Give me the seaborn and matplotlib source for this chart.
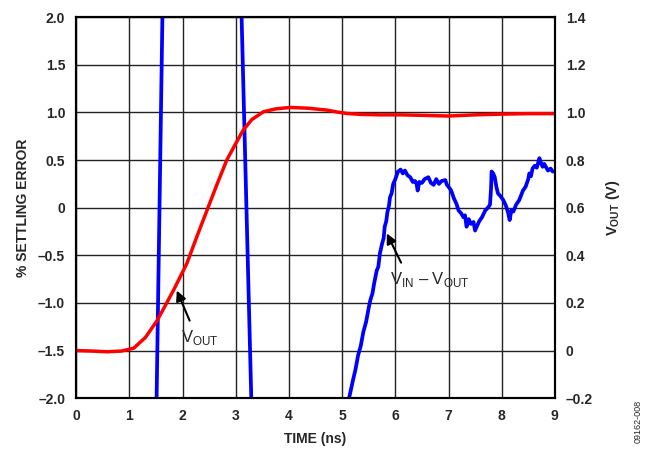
import matplotlib
matplotlib.use("Agg")
import matplotlib.pyplot as plt
import seaborn as sns
import pandas as pd

# VOUT (V), right axis
t_vout = [0.0, 0.3, 0.58, 0.85, 1.08, 1.3, 1.52, 1.7, 1.83, 2.08, 2.27, 2.46, 2.65, 2.83, 3.0, 3.14, 3.3,
          3.52, 3.75, 4.02, 4.35, 4.71, 4.9, 5.08, 5.33, 5.7, 6.1, 6.5, 7.0, 7.5, 8.0, 8.5, 9.0]
v_out = [0.0, -0.002, -0.005, -0.002, 0.01, 0.055, 0.126, 0.2, 0.254, 0.366, 0.48, 0.59, 0.70, 0.80, 0.87, 0.926, 0.97,
         1.003, 1.015, 1.021, 1.018, 1.01, 1.002, 0.996, 0.992, 0.99, 0.99, 0.988, 0.985, 0.99, 0.993, 0.995, 0.995]

# % settling error, left axis
t_err = [1.505, 1.625, 3.10, 3.30, 5.08, 5.13, 5.2, 5.25, 5.3, 5.35, 5.4, 5.45, 5.5, 5.53, 5.57, 5.6, 5.65, 5.68,
         5.71, 5.75, 5.78, 5.80, 5.83, 5.85, 5.88, 5.9, 5.93, 5.96, 6.0, 6.05, 6.1, 6.14, 6.18, 6.23, 6.28, 6.33,
         6.37, 6.40, 6.42, 6.45, 6.5, 6.55, 6.62, 6.67, 6.72, 6.77, 6.82, 6.87, 6.94, 6.97, 7.0, 7.05, 7.1, 7.15,
         7.19, 7.24, 7.28, 7.31, 7.34, 7.38, 7.42, 7.47, 7.5, 7.53, 7.58, 7.63, 7.69, 7.74, 7.78, 7.80, 7.81, 7.84,
         7.87, 7.9, 7.93, 7.98, 8.03, 8.08, 8.12, 8.15, 8.18, 8.22, 8.27, 8.33, 8.40, 8.45, 8.5, 8.52, 8.55, 8.58,
         8.62, 8.66, 8.71, 8.74, 8.77, 8.8, 8.84, 8.87, 8.92, 8.96, 9.0]
pct_err = [-2.2, 2.2, 2.2, -2.2, -2.2, -2.0, -1.82, -1.7, -1.55, -1.45, -1.3, -1.2, -1.05, -0.97, -0.9, -0.8, -0.66, -0.62,
           -0.48, -0.38, -0.32, -0.2, -0.14, -0.05, 0.02, 0.11, 0.15, 0.25, 0.3, 0.38, 0.40, 0.36, 0.39, 0.34, 0.32, 0.27,
           0.28, 0.25, 0.18, 0.27, 0.26, 0.3, 0.32, 0.26, 0.24, 0.3, 0.25, 0.28, 0.29, 0.24, 0.22, 0.18, 0.1, 0.04,
           -0.03, -0.06, -0.1, -0.08, -0.2, -0.12, -0.17, -0.15, -0.24, -0.2, -0.14, -0.1, -0.03, 0.0, 0.03, 0.2, 0.38, 0.36,
           0.32, 0.22, 0.15, 0.12, 0.08, 0.02, -0.05, -0.13, -0.03, -0.04, 0.03, 0.08, 0.18, 0.22, 0.3, 0.36, 0.33, 0.41,
           0.44, 0.42, 0.52, 0.47, 0.43, 0.46, 0.42, 0.39, 0.41, 0.38, 0.38]

x_ticks = [0, 1, 2, 3, 4, 5, 6, 7, 8, 9]
left_ticks = [-2.0, -1.5, -1.0, -0.5, 0.0, 0.5, 1.0, 1.5, 2.0]
left_labels = ["\u20132.0", "\u20131.5", "\u20131.0", "\u20130.5", "0", "0.5", "1.0", "1.5", "2.0"]
right_ticks = [-0.2, 0.0, 0.2, 0.4, 0.6, 0.8, 1.0, 1.2, 1.4]
right_labels = ["\u20130.2", "0", "0.2", "0.4", "0.6", "0.8", "1.0", "1.2", "1.4"]

sns.set_style("white")
plt.rcParams['font.family'] = ['Liberation Sans', 'DejaVu Sans']
plt.rcParams['mathtext.fontset'] = 'custom'
plt.rcParams['mathtext.rm'] = 'Liberation Sans'
plt.rcParams['mathtext.bf'] = 'Liberation Sans:bold'

fig, ax = plt.subplots(figsize=(6.52, 4.53), dpi=100)
fig.subplots_adjust(left=0.117, right=0.851, top=0.962, bottom=0.121)
ax2 = ax.twinx()

df_err = pd.DataFrame({"t": t_err, "pct": pct_err})
df_vout = pd.DataFrame({"t": t_vout, "v": v_out})

sns.lineplot(data=df_err, x="t", y="pct", ax=ax, color="#0000FF", linewidth=2.7, estimator=None, sort=False)
sns.lineplot(data=df_vout, x="t", y="v", ax=ax2, color="#FF0000", linewidth=2.5, estimator=None, sort=False)

ax.set_xlim(0, 9)
ax.set_ylim(-2.0, 2.0)
ax2.set_ylim(-0.2, 1.4)
ax.set_xticks(x_ticks)
ax.set_xticklabels([str(v) for v in x_ticks], fontsize=10, fontweight="bold")
ax.set_yticks(left_ticks)
ax.set_yticklabels(left_labels, fontsize=10, fontweight="bold")
ax2.set_yticks(right_ticks)
ax2.set_yticklabels(right_labels, fontsize=10, fontweight="bold")

ax.grid(True, color="#222222", linewidth=1.0)
ax.set_axisbelow(True)
ax.tick_params(length=0, pad=8)
ax2.tick_params(length=0, pad=8)
for a in (ax, ax2):
    for s in a.spines.values():
        s.set_color("black")
        s.set_linewidth(1.5)

ax.set_xlabel("TIME (ns)", fontsize=10, fontweight="bold", labelpad=6)
ax.set_ylabel("% SETTLING ERROR", fontsize=10, fontweight="bold", labelpad=6)
ax2.set_ylabel("V$_\\mathbf{OUT}$ (V)", fontsize=10.5, fontweight="bold", labelpad=8)

ax.annotate("V$_\\mathregular{OUT}$", xy=(1.89, -0.87), xytext=(2.33, -1.36), fontsize=12,
            ha="center", va="center",
            arrowprops=dict(arrowstyle="-|>", color="black", lw=1.5, shrinkA=3, shrinkB=0, mutation_scale=15,
                            relpos=(0.3, 1.0)))
ax.annotate("V$_\\mathregular{IN}$ \u2013 V$_\\mathregular{OUT}$", xy=(5.84, -0.27), xytext=(6.65, -0.75), fontsize=12,
            ha="center", va="center",
            arrowprops=dict(arrowstyle="-|>", color="black", lw=1.5, shrinkA=3, shrinkB=0, mutation_scale=15,
                            relpos=(0.18, 1.0)))

fig.text(0.978, 0.022, "09162-008", rotation=90, fontsize=6.5, ha="center", va="bottom")

fig.savefig("out.png", dpi=100)
